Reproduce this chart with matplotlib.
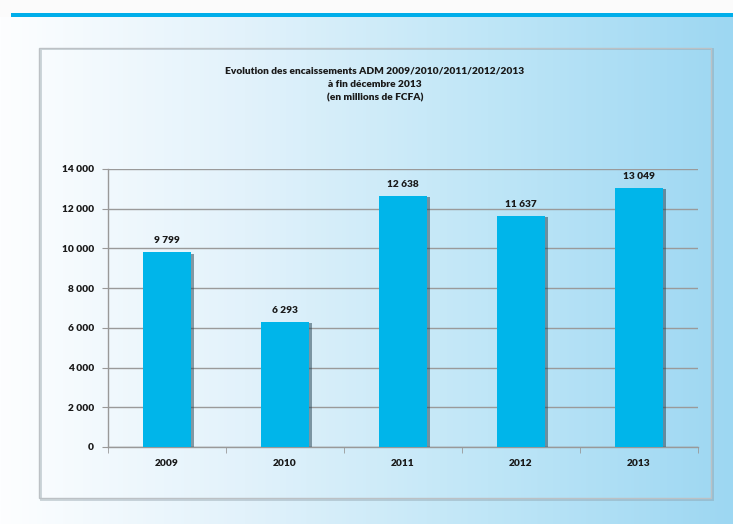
import numpy as np
import matplotlib
matplotlib.use("Agg")
import matplotlib.pyplot as plt
import matplotlib.patches as patches
import matplotlib.patheffects as pe
from matplotlib.colors import LinearSegmentedColormap

# data
years = ["2009", "2010", "2011", "2012", "2013"]
encaissements = [9799, 6293, 12638, 11637, 13049]
y_ticks = [0, 2000, 4000, 6000, 8000, 10000, 12000, 14000]
title_lines = [
    "Evolution des encaissements ADM 2009/2010/2011/2012/2013",
    "à fin décembre 2013",
    "(en millions de FCFA)",
]

W, H = 733, 524
plt.rcParams["font.family"] = ["Lato", "DejaVu Sans"]
plt.rcParams["font.weight"] = "heavy"
TXT = "#1a1a1a"
WT = "heavy"

def fx(px):
    return px / W

def fy(py):
    return 1 - py / H

fig = plt.figure(figsize=(W / 100, H / 100), dpi=100)
fig.patch.set_facecolor("#fbfbfb")

# background gradient (white -> light blue) below the top line
bg = fig.add_axes([0, 0, 1, fy(17)], zorder=0)
cmap = LinearSegmentedColormap.from_list("bg", ["#fdfeff", "#e2f2fb", "#bfe6f7", "#9dd7f2"])
bg.imshow(np.linspace(0, 1, 256).reshape(1, -1), aspect="auto", cmap=cmap,
          extent=[0, 1, 0, 1])
bg.set_axis_off()

# top blue line
fig.patches.append(patches.Rectangle((fx(11), fy(17)), 1 - fx(11), 4 / H,
                                     transform=fig.transFigure, facecolor="#00aeea",
                                     edgecolor="none", zorder=1))

# chart box with a soft shadow
fig.patches.append(patches.Rectangle((fx(41), fy(500)), fx(712) - fx(40), fy(49) - fy(500),
                                     transform=fig.transFigure, facecolor="none",
                                     edgecolor="#8a9aa4", lw=1.4, alpha=0.4, zorder=1))
fig.patches.append(patches.Rectangle((fx(39), fy(498)), fx(711) - fx(39), fy(48) - fy(498),
                                     transform=fig.transFigure, facecolor="none",
                                     edgecolor="#bcc1c5", lw=1.0, zorder=1))

# title, centred in the box
for i, line in enumerate(title_lines):
    fig.text(fx(375), fy(71 + i * 13.5), line, ha="center", va="center",
             fontsize=7.3, fontweight=WT, color=TXT, zorder=3)

ax = fig.add_axes([fx(108), fy(447), fx(698) - fx(108), fy(169) - fy(447)], zorder=2)
ax.patch.set_alpha(0)

x = np.arange(len(years))
bars = ax.bar(x, encaissements, width=0.41, color="#00b5ea", zorder=3)
for b in bars:
    b.set_path_effects([pe.SimplePatchShadow(offset=(2, -1), shadow_rgbFace="#1f3d4d", alpha=0.5),
                        pe.Normal()])

for xi, v in zip(x, encaissements):
    ax.annotate(f"{v:,}".replace(",", " "), (xi, v), xytext=(0, 5), textcoords="offset points",
                ha="center", va="bottom", fontsize=7.3, fontweight=WT, color=TXT)

ax.set_xlim(-0.5, len(years) - 0.5)
ax.set_ylim(0, 14000)
ax.set_yticks(y_ticks)
ax.set_yticklabels([f"{t:,}".replace(",", " ") for t in y_ticks], fontweight=WT)
ax.set_xticks(x)
ax.set_xticklabels(years, fontweight=WT)
ax.set_xticks(np.arange(-0.5, len(years)), minor=True)
ax.tick_params(axis="x", which="major", length=0, pad=9, labelsize=7.3, labelcolor=TXT)
ax.tick_params(axis="x", which="minor", length=4, color="#999999", direction="out")
ax.tick_params(axis="y", length=4, color="#999999", pad=6, labelsize=7.3, labelcolor=TXT)

ax.yaxis.grid(True, color="#9a9a9a", lw=1.0, zorder=1)
ax.set_axisbelow(True)
for s in ["top", "right"]:
    ax.spines[s].set_visible(False)
for s in ["left", "bottom"]:
    ax.spines[s].set_color("#999999")
    ax.spines[s].set_linewidth(1.0)

fig.savefig("out.png", dpi=100)
